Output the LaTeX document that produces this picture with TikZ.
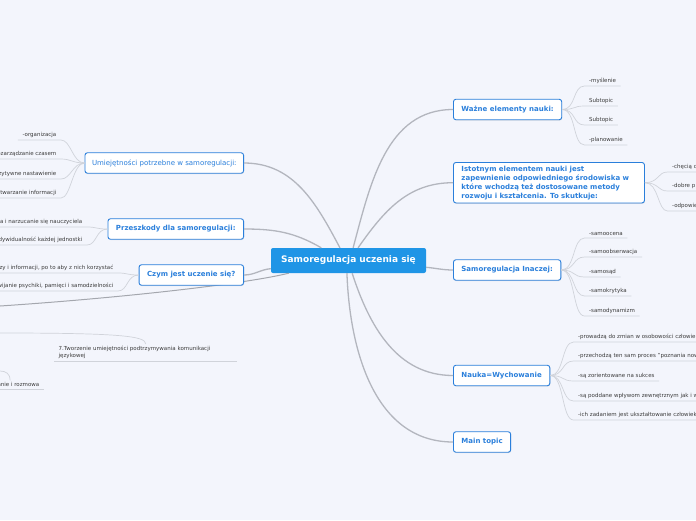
\documentclass[tikz,border=0pt]{standalone}
\usepackage{fontspec}
\setmainfont{DejaVu Sans}
\usetikzlibrary{shadows}
\definecolor{bgcol}{HTML}{F3F5FC}
\definecolor{topicblue}{HTML}{2A7FDB}
\definecolor{centerblue}{HTML}{1F95E6}
\definecolor{linegray}{HTML}{B3B6BE}
\definecolor{farline}{HTML}{A4A7AE}
\definecolor{twiggray}{HTML}{D0D3DA}
\definecolor{subtext}{HTML}{3C3C3C}
\begin{document}
\begin{tikzpicture}[x=1pt,y=1pt,
 root/.style={fill=centerblue,text=white,font=\fontsize{9}{11}\selectfont\bfseries,rounded corners=2pt,minimum width=155pt,minimum height=25pt},
 topic/.style={draw=topicblue,line width=0.9pt,fill=white,rounded corners=2.5pt,text=topicblue,font=\fontsize{7}{9}\selectfont\bfseries,inner xsep=8pt,minimum height=20.5pt,drop shadow={shadow xshift=0.5pt,shadow yshift=-0.8pt,opacity=0.2}},
 sub/.style={font=\fontsize{5.5}{7}\selectfont,text=subtext,inner xsep=4.5pt,inner ysep=2pt},
 branch/.style={draw=linegray,line width=1.3pt},
 twig/.style={draw=twiggray,line width=0.7pt}]
\fill[bgcol] (0,0) rectangle (696,-520);
\useasboundingbox (0,0) rectangle (696,-520);
\node[root] (center) at (348.5,-260.5) {Samoregulacja uczenia się};
\coordinate (offc) at (0,-306);
\draw[branch,draw=farline,line width=1pt] (center.192) .. controls (245,-284) and (120,-298) .. (offc);
\node[topic,anchor=west] (wazne) at (453,-109.5) {Ważne elementy nauki:};
\node[topic,anchor=north west,align=left,text width=175pt] (istot) at (453,-162) {Istotnym elementem nauki jest\\zapewnienie odpowiedniego środowiska w\\które wchodzą też dostosowane metody\\rozwoju i kształcenia. To skutkuje:};
\node[topic,anchor=west] (inaczej) at (453,-270) {Samoregulacja Inaczej:};
\node[topic,anchor=west] (nauka) at (453,-375.5) {Nauka=Wychowanie};
\node[topic,anchor=west] (maint) at (453,-442) {Main topic};
\node[topic,anchor=east,font=\fontsize{7}{9}\selectfont,inner xsep=7pt] (umiej) at (244,-163) {Umiejętności potrzebne w samoregulacji:};
\node[topic,anchor=east] (przesz) at (244,-229) {Przeszkody dla samoregulacji:};
\node[topic,anchor=east] (czym) at (244,-275) {Czym jest uczenie się?};
\draw[branch] (center.124) to[out=118,in=0] (umiej.east);
\draw[branch] (center.155) to[out=150,in=0] (przesz.east);
\draw[branch] (center.70) to[out=75,in=180] (wazne.west);
\draw[branch] (center.53) to[out=55,in=180] (istot.west);
\draw[branch] (center.-5) to[out=-5,in=180] (inaczej.west);
\draw[branch] (center.-74) to[out=-72,in=180] (nauka.west);
\draw[branch] (center.-97) to[out=-88,in=180] (maint.west);
\draw[branch] (center.186) to[out=185,in=0] (czym.east);
\foreach \t/\y [count=\i] in {-myślenie/86,Subtopic/106,Subtopic/125,-planowanie/145}{
 \node[sub,anchor=south west] (wz\i) at (584.5,-\y) {\t};
 \draw[twig] (wazne.east) .. controls +(14,0) and +(-12,0) .. (wz\i.south west) -- (wz\i.south east);}
\foreach \t/\y [count=\i] in {-chęcią d/172,-dobre p/191,-odpowie/211}{
 \node[sub,anchor=south west] (is\i) at (667.5,-\y) {\t};
 \draw[twig] (istot.east) .. controls +(14,0) and +(-10,0) .. (is\i.south west) -- (is\i.south east);}
\foreach \t/\y [count=\i] in {-samoocena/238,-samoobserwacja/257,-samosąd/277,-samokrytyka/296,-samodynamizm/316}{
 \node[sub,anchor=south west] (in\i) at (584.5,-\y) {\t};
 \draw[twig] (inaczej.east) .. controls +(14,0) and +(-12,0) .. (in\i.south west) -- (in\i.south east);}
\foreach \t/\y [count=\i] in {-prowadzą do zmian w osobowości człowieka/342,-przechodzą ten sam proces "poznania nowego"/361,-są zorientowane na sukces/381,-są poddane wpływom zewnętrznym jak i wewnętrznym/401,-ich zadaniem jest ukształtowanie człowieka/420}{
 \node[sub,anchor=south west] (na\i) at (573.5,-\y) {\t};
 \draw[twig] (nauka.east) .. controls +(14,0) and +(-12,0) .. (na\i.south west) -- (na\i.south east);}
\foreach \t/\y [count=\i] in {-organizacja/140,-zarządzanie czasem/159,-pozytywne nastawienie/179,-przetwarzanie informacji/198}{
 \node[sub,anchor=south east] (um\i) at (61,-\y) {\t};
 \draw[twig] (umiej.west) .. controls +(-12,0) and +(10,0) .. (um\i.south east) -- (um\i.south west);}
\foreach \t/\y [count=\i] in {-kontrola i narzucanie się nauczyciela/227,-indywidualność każdej jednostki/245}{
 \node[sub,anchor=south east] (pr\i) at (87,-\y) {\t};
 \draw[twig] (przesz.west) .. controls +(-12,0) and +(10,0) .. (pr\i.south east) -- (pr\i.south west);}
\node[sub,anchor=south east] (cz1) at (118,-273) {-zdobywanie wiedzy i informacji, po to aby z nich korzystać};
\node[sub,anchor=south east] (cz2) at (118,-291) {-rozwijanie psychiki, pamięci i samodzielności};
\foreach \i in {1,2}
 \draw[twig] (czym.west) .. controls +(-12,0) and +(10,0) .. (cz\i.south east) -- (cz\i.south west);
\node[sub,anchor=south west,text width=174pt,align=left] (tworz) at (54,-361) {7.Tworzenie umiejętności podtrzymywania komunikacji\\językowej};
\coordinate (offtw) at (0,-333);
\draw[twig] (offtw) .. controls (120,-333) and (146,-336) .. (tworz.north);
\draw[twig] (tworz.south west) -- (tworz.south east);
\node[sub,anchor=south east] (rozm) at (44,-389) {-słuchanie i rozmowa};
\coordinate (offro) at (0,-371);
\draw[twig] (offro) .. controls (6,-371) and (rozm.north |- 0,-374) .. (rozm.north);
\draw[twig] (rozm.south west) -- (rozm.south east);
\end{tikzpicture}
\end{document}
